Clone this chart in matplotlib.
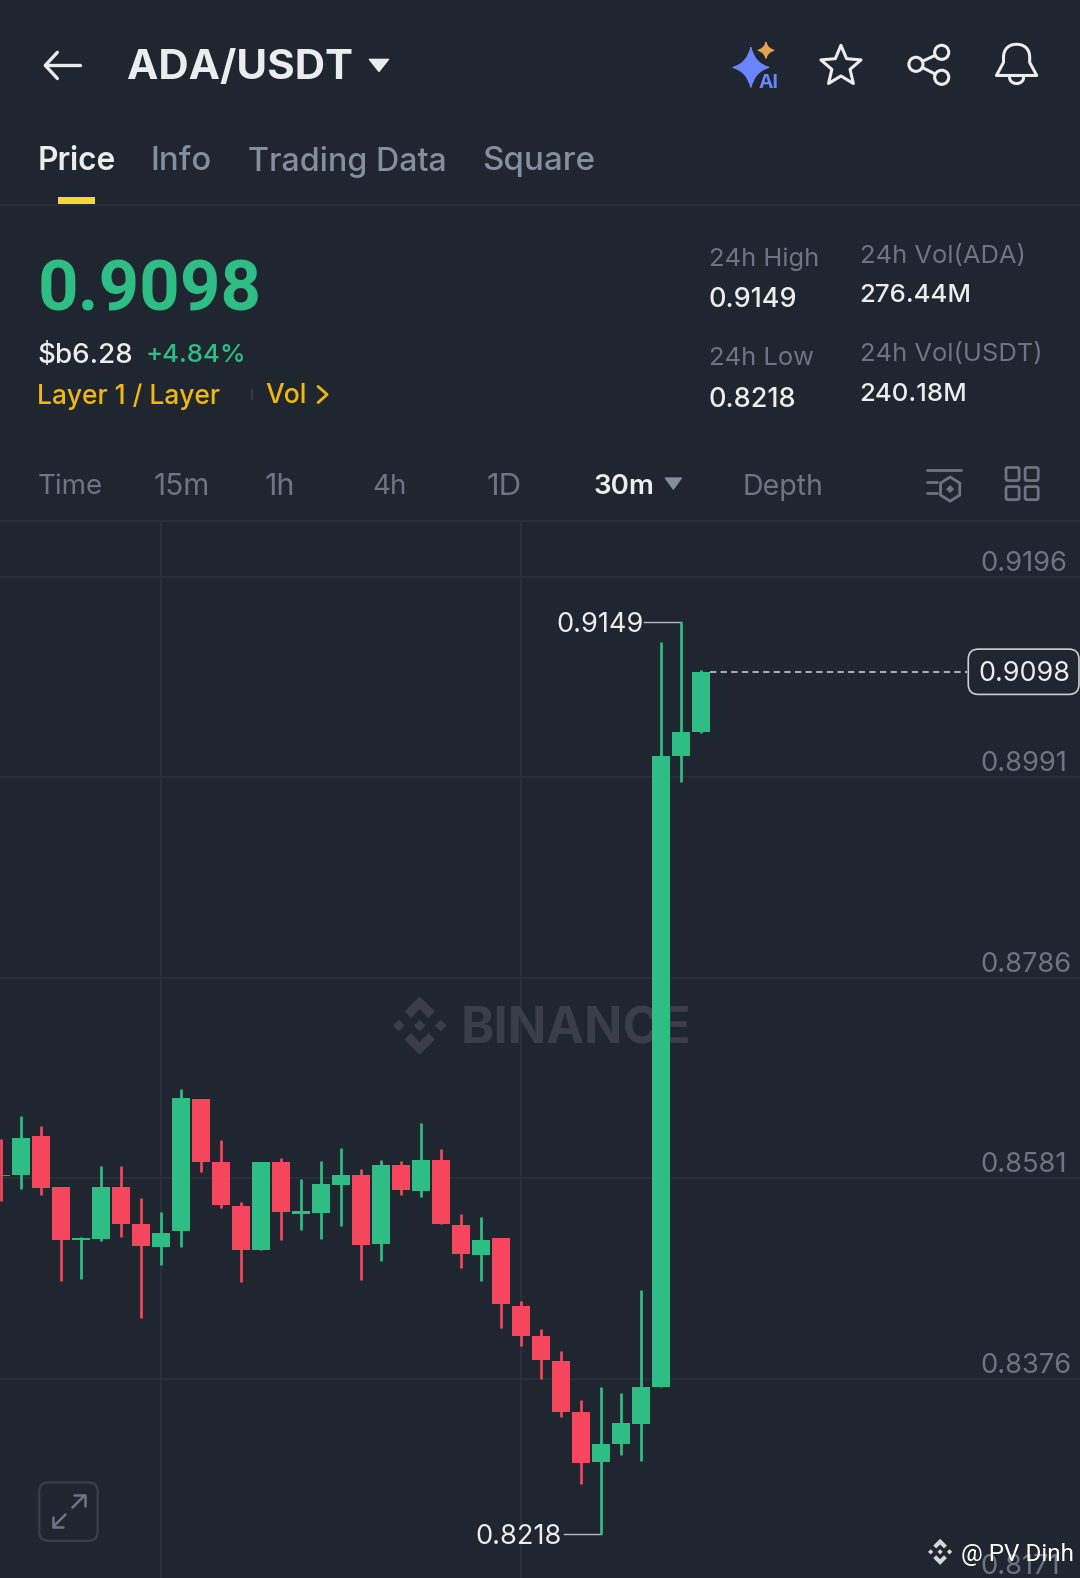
import numpy as np
import matplotlib
matplotlib.use("Agg")
import matplotlib.pyplot as plt
from matplotlib.patches import Circle, FancyBboxPatch, Polygon, PathPatch, Rectangle
from matplotlib.path import Path

plt.rcParams["font.family"] = ["Inter", "DejaVu Sans"]

# candles, left to right (30m)
opens = [0.8584, 0.8584, 0.8624, 0.8572, 0.8518, 0.8519, 0.8572, 0.8534, 0.8511,
         0.8527, 0.8662, 0.8598, 0.8553, 0.8508, 0.8598, 0.8545, 0.8546, 0.8574,
         0.8584, 0.8514, 0.8595, 0.8568, 0.8600, 0.8533, 0.8503, 0.8520, 0.8451,
         0.8420, 0.8394, 0.8342, 0.8291, 0.8309, 0.8330, 0.8368, 0.9013, 0.9037]
closes = [0.8583, 0.8622, 0.8571, 0.8518, 0.8520, 0.8572, 0.8534, 0.8512, 0.8525,
          0.8663, 0.8598, 0.8554, 0.8508, 0.8598, 0.8547, 0.8548, 0.8575, 0.8584,
          0.8513, 0.8595, 0.8569, 0.8600, 0.8534, 0.8504, 0.8518, 0.8453, 0.8420,
          0.8395, 0.8342, 0.8290, 0.8309, 0.8331, 0.8368, 0.9013, 0.9037, 0.9098]
highs = [0.8621, 0.8645, 0.8634, 0.8572, 0.8521, 0.8594, 0.8594, 0.8561, 0.8547,
         0.8672, 0.8662, 0.8620, 0.8557, 0.8598, 0.8602, 0.8580, 0.8599, 0.8612,
         0.8591, 0.8600, 0.8599, 0.8638, 0.8611, 0.8545, 0.8541, 0.8520, 0.8456,
         0.8427, 0.8405, 0.8354, 0.8368, 0.8362, 0.8467, 0.9129, 0.9149, 0.9100]
lows = [0.8558, 0.8570, 0.8564, 0.8476, 0.8478, 0.8517, 0.8521, 0.8438, 0.8492,
        0.8511, 0.8587, 0.8551, 0.8475, 0.8508, 0.8518, 0.8528, 0.8519, 0.8532,
        0.8477, 0.8497, 0.8564, 0.8562, 0.8534, 0.8489, 0.8476, 0.8428, 0.8410,
        0.8376, 0.8337, 0.8269, 0.8218, 0.8298, 0.8292, 0.8368, 0.8986, 0.9036]

price_ticks = [0.9196, 0.8991, 0.8786, 0.8581, 0.8376, 0.8171]
time_grid = [8, 26]
last_price = 0.9098
day_high = 0.9149
day_low = 0.8218

tabs = ["Price", "Info", "Trading Data", "Square"]
intervals = ["Time", "15m", "1h", "4h", "1D", "30m", "Depth"]

BG = "#1F2630"
GRID = "#2B313B"
UP = "#2EBD85"
DOWN = "#F6465D"
WHITE = "#EAECEF"
GRAY = "#848E9C"
DIM = "#6E7582"
YELLOW = "#F0B90B"

fig = plt.figure(figsize=(10.8, 15.78), dpi=100, facecolor=BG)

# chart area runs slightly past the bottom edge so the 0.8171 tick stays in view
ax = fig.add_axes([0, -12 / 1578, 1, (1590 - 522) / 1578], facecolor=BG)
idx = np.arange(len(opens))
o, c, h, l = map(np.array, (opens, closes, highs, lows))
cols = np.where(c >= o, UP, DOWN)
ax.vlines(idx, l, h, colors=cols, lw=1.95, zorder=3)
ax.bar(idx, np.abs(c - o), bottom=np.minimum(o, c), width=0.87, color=cols,
       linewidth=0, zorder=4)
ax.set_xlim(-0.05, 53.95)
ax.set_ylim(0.81603, 0.92517)
ax.set_xticks(time_grid)
ax.set_yticks(price_ticks)
ax.set_yticklabels([f"{p:.4f}" for p in price_ticks])
ax.grid(True, color=GRID, lw=1.2, zorder=0)
ax.set_axisbelow(True)
ax.tick_params(axis="x", bottom=False, labelbottom=False)
ax.tick_params(axis="y", left=False, right=False, labelleft=False, labelright=True,
               pad=-75.5, labelsize=19.7, labelcolor=DIM)
for t in ax.get_yticklabels():
    t.set_verticalalignment("bottom")
for s in ax.spines.values():
    s.set_visible(False)

# high / low / last price markers
ax.plot([32.15, 34], [day_high, day_high], color="#B7BDC6", lw=1, zorder=2)
ax.text(32.12, day_high, f"{day_high:.4f}", ha="right", va="center_baseline", color=WHITE, fontsize=19.6)
ax.plot([28.15, 30], [day_low, day_low], color="#B7BDC6", lw=1, zorder=2)
ax.text(28.05, day_low, f"{day_low:.4f}", ha="right", va="center_baseline", color=WHITE, fontsize=19.6)
ax.plot([35.45, 48.3], [last_price, last_price], color="#A5ABB4", lw=1.5,
        dashes=(3, 2.1), zorder=2)

# everything else is app chrome, laid out in screen pixels
ui = fig.add_axes([0, 0, 1, 1])
ui.set_xlim(0, 1073)
ui.set_ylim(1568, 0)
ui.axis("off")
ui.patch.set_alpha(0)


def label(x, y, s, color=WHITE, size=20, weight="normal", ha="left", family=None):
    ui.text(x, y, s, color=color, fontsize=size, fontweight=weight, ha=ha,
            va="center_baseline", family=family or ["Inter", "DejaVu Sans"])


def stroke(xs, ys, color=WHITE, lw=2):
    ui.plot(xs, ys, color=color, lw=lw, solid_capstyle="round", solid_joinstyle="round")


def logo(target, cx, cy, r, color, zorder=1):
    top = np.array([(0, -1), (0.52, -0.48), (0.3, -0.26), (0, -0.56), (-0.3, -0.26), (-0.52, -0.48)])
    parts = [top, top * [1, -1]]
    for dx in (-0.72, 0, 0.72):
        parts.append(np.array([(dx, -0.2), (dx + 0.2, 0), (dx, 0.2), (dx - 0.2, 0)]))
    for p in parts:
        target.add_patch(Polygon(p * r + [cx, cy], closed=True, facecolor=color, edgecolor="none",
                                 transform=ui.transData, zorder=zorder))


def sparkle(cx, cy, rx, ry, color):
    kx, ky = 0.2 * rx, 0.2 * ry
    verts = [(cx, cy - ry), (cx + kx, cy - ky), (cx + rx, cy), (cx + kx, cy + ky), (cx, cy + ry),
             (cx - kx, cy + ky), (cx - rx, cy), (cx - kx, cy - ky), (cx, cy - ry)]
    codes = [Path.MOVETO] + [Path.CURVE3] * 8
    ui.add_patch(PathPatch(Path(verts, codes), facecolor=color, edgecolor=color, lw=0.8))


# header
stroke([45, 79], [65, 65], lw=2.4)
stroke([57, 45, 57], [52, 65, 78], lw=2.4)
label(126, 64, "ADA/USDT", size=30.3, weight="bold")
ui.add_patch(Polygon([(367, 59), (386, 59), (376.5, 71)], closed=True, facecolor=WHITE,
                     edgecolor=WHITE, lw=1, joinstyle="round"))

sparkle(746, 67, 18, 20, "#6B85FF")
sparkle(761, 50, 8, 8, "#E8A24E")
label(763, 80, "AI", color="#6B85FF", size=14, weight="bold", ha="center")

ang = np.pi / 2 + np.arange(10) * np.pi / 5
rad = np.where(np.arange(10) % 2 == 0, 21, 9.5)
ui.add_patch(Polygon(np.c_[835.5 + rad * np.cos(ang), 66 - rad * np.sin(ang)], closed=True,
                     facecolor="none", edgecolor=WHITE, lw=2.2, joinstyle="round"))

stroke([910, 935.6], [63.9, 52], lw=2.2)
stroke([910, 935.6], [63.9, 76.8], lw=2.2)
for cx, cy in [(935.6, 52), (910, 63.9), (935.6, 76.8)]:
    ui.add_patch(Circle((cx, cy), 7, facecolor=BG, edgecolor=WHITE, lw=2.2, zorder=3))

bell = Path([(990, 75), (997, 62), (997, 57), (997, 48), (1003, 44), (1010, 44),
             (1017, 44), (1023, 48), (1023, 57), (1023, 62), (1030, 75), (990, 75)],
            [Path.MOVETO, Path.LINETO, Path.LINETO, Path.CURVE4, Path.CURVE4, Path.CURVE4,
             Path.CURVE4, Path.CURVE4, Path.CURVE4, Path.LINETO, Path.LINETO, Path.CLOSEPOLY])
ui.add_patch(PathPatch(bell, facecolor="none", edgecolor=WHITE, lw=2.2, joinstyle="round"))
th = np.linspace(0, np.pi, 20)
stroke(1010 + 7 * np.cos(th), 77 + 6 * np.sin(th), lw=2.2)

# tabs
for s, x, size in zip(tabs, [37, 149, 246, 479], [22.8, 23.7, 23.2, 23.9]):
    active = s == "Price"
    label(x, 157, s, color=WHITE if active else GRAY, size=size,
          weight="semibold" if active else "medium")
ui.add_patch(Rectangle((58, 196), 36, 7, facecolor="#FCD535", edgecolor="none"))
ui.plot([0, 1073], [204, 204], color=GRID, lw=1.2)

# price block
label(37, 282, f"{last_price:.4f}", color=UP, size=51, weight="bold", family=["Roboto", "DejaVu Sans"])
label(37, 351, "$b6.28", size=20, weight="medium")
label(145, 351, "+4.84%", color=UP, size=18.6, weight="medium")
label(37, 391, "Layer 1 / Layer", color=YELLOW, size=19, weight="medium")
ui.plot([250, 250], [388, 396], color="#3A404B", lw=1.2)
label(264, 391, "Vol", color=YELLOW, size=19, weight="medium")
stroke([316, 325, 316], [384, 392, 400], color=YELLOW, lw=2)

label(704, 255, "24h High", color=DIM, size=18.4)
label(704, 295, f"{day_high:.4f}", size=19.5, weight="medium")
label(704, 354, "24h Low", color=DIM, size=18.4)
label(704, 394, f"{day_low:.4f}", size=19.5, weight="medium")
label(854, 252, "24h Vol(ADA)", color=DIM, size=18.4)
label(854, 291, "276.44M", size=18.6, weight="medium")
label(854, 350, "24h Vol(USDT)", color=DIM, size=18.4)
label(854, 390, "240.18M", size=18.6, weight="medium")

# interval row
for s, x, size in zip(intervals, [37, 153, 263, 370, 483, 590, 738], [20, 21.5, 22, 20, 22.5, 20, 20.5]):
    active = s == "30m"
    label(x, 481, s, color=WHITE if active else DIM, size=size,
          weight="semibold" if active else "normal")
ui.add_patch(Polygon([(661, 475), (677, 475), (669, 486)], closed=True, facecolor=GRAY,
                     edgecolor=GRAY, lw=1, joinstyle="round"))

stroke([921, 955], [467, 467], color=DIM, lw=2)
stroke([921, 931], [478.6, 478.6], color=DIM, lw=2)
stroke([921, 931], [489.5, 489.5], color=DIM, lw=2)
hex_ang = np.pi / 6 + np.arange(6) * np.pi / 3
ui.add_patch(Polygon(np.c_[944 + 11 * np.cos(hex_ang), 486 + 12 * np.sin(hex_ang)], closed=True,
                     facecolor="none", edgecolor=DIM, lw=2))
ui.add_patch(Polygon([(944, 482), (948, 486), (944, 490), (940, 486)], closed=True,
                     facecolor=DIM, edgecolor="none"))
for x0 in (999.5, 1018.5):
    for y0 in (464.5, 483.5):
        ui.add_patch(FancyBboxPatch((x0 + 1.5, y0 + 1.5), 10, 10, boxstyle="round,pad=1.5,rounding_size=2",
                                    facecolor="none", edgecolor=DIM, lw=2))
ui.plot([0, 1073], [518, 518], color=GRID, lw=1.2)

# watermark sits under the candles
logo(ax, 417, 1019, 29, "#3A3E49", zorder=1)
ax.text(458, 1019, "BINANCE", color="#3A3E49", fontsize=36.4, fontweight="bold", ha="left",
        va="center_baseline", transform=ui.transData, zorder=1)

# last price tag
ui.add_patch(FancyBboxPatch((968, 651), 98, 33, boxstyle="round,pad=6,rounding_size=10",
                            facecolor=BG, edgecolor="#C9CDD3", lw=1.2))
label(1017.5, 667, f"{last_price:.4f}", size=19.4, ha="center")

# expand button
ui.add_patch(FancyBboxPatch((47, 1481), 42, 42, boxstyle="round,pad=8,rounding_size=9",
                            facecolor="none", edgecolor="#3A404B", lw=1.6))
stroke([53, 65], [1517, 1505], color=DIM, lw=1.8)
stroke([53, 53, 63], [1507, 1517, 1517], color=DIM, lw=1.8)
stroke([72, 84], [1498, 1486], color=DIM, lw=1.8)
stroke([74, 84, 84], [1486, 1486, 1496], color=DIM, lw=1.8)

# repost credit
logo(ui, 934, 1542, 13, "#D5D7DB", zorder=5)
ui.text(955, 1542, "@ PV Dinh", color="white", fontsize=17.5, ha="left", va="center_baseline",
        family=["Roboto", "DejaVu Sans"], zorder=6)

fig.savefig("out.png", dpi=100, facecolor=BG)
